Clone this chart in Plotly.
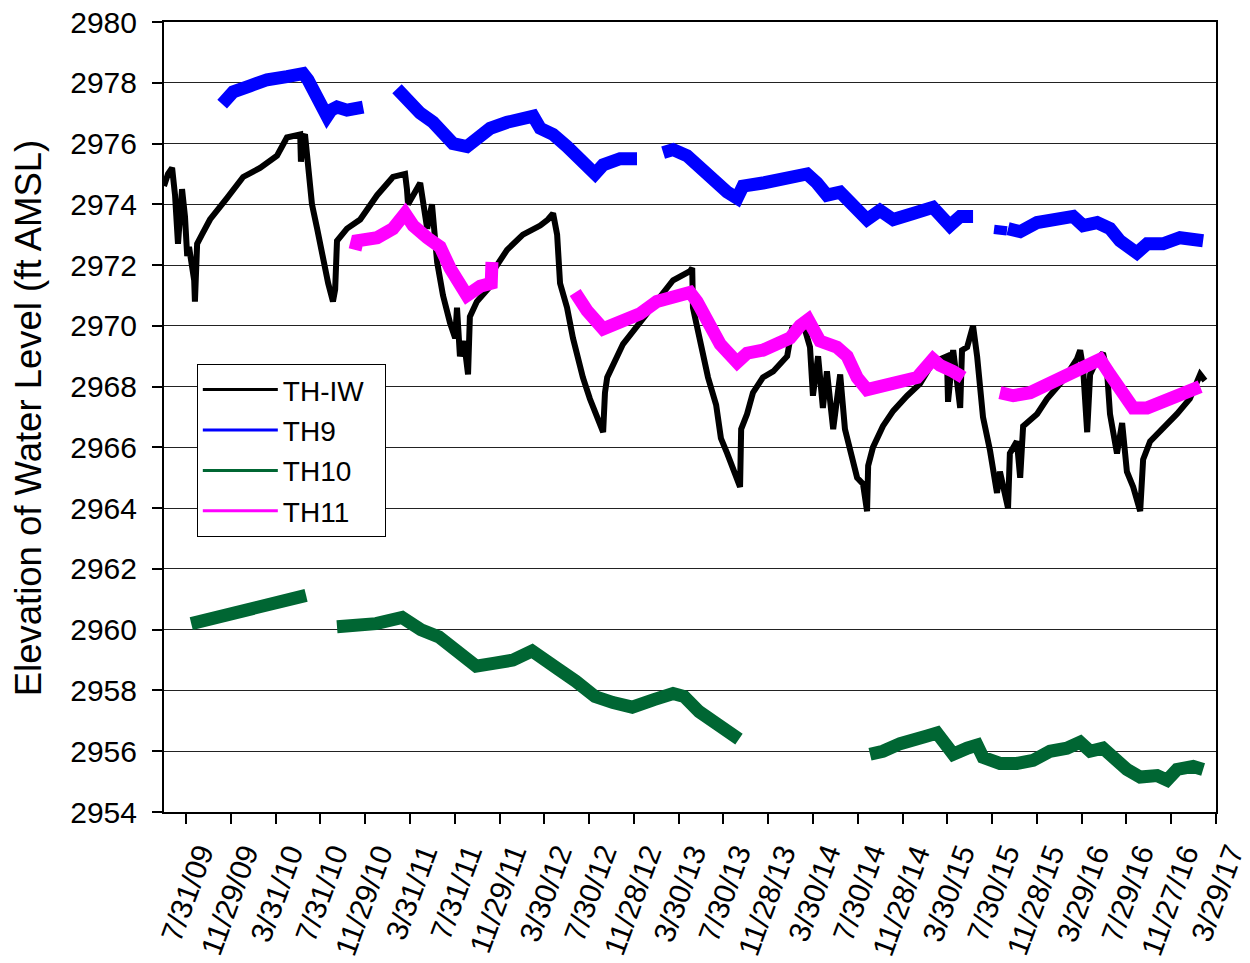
import pandas as pd
import plotly.graph_objects as go

# ---------------- data (days after 31 Jul 2009, elevation ft AMSL) ----------------
START_DATE = "2009-07-31"

th_iw_days = [-60, -49, -38, -30, -22, -16, -11, -3, 3, 8,
              16, 22, 24, 30, 43, 65, 111, 155, 201, 247,
              274, 310, 312, 318, 323, 331, 342, 356, 372, 386,
              399, 405, 410, 437, 473, 519, 562, 595, 600, 603,
              617, 636, 655, 668, 682, 698, 717, 731, 736, 744,
              755, 766, 771, 790, 826, 834, 872, 915, 962, 983,
              997, 1008, 1016, 1035, 1051, 1078, 1097, 1119, 1133, 1138,
              1144, 1187, 1233, 1279, 1323, 1369, 1375, 1377, 1404, 1418,
              1440, 1453, 1470, 1486, 1505, 1508, 1524, 1540, 1567, 1595,
              1633, 1646, 1668, 1676, 1695, 1703, 1717, 1730, 1741, 1758,
              1777, 1790, 1804, 1823, 1839, 1850, 1853, 1866, 1893, 1921,
              1959, 1994, 2029, 2067, 2070, 2084, 2103, 2108, 2122, 2138,
              2149, 2157, 2165, 2184, 2203, 2211, 2233, 2238, 2257, 2266,
              2274, 2312, 2339, 2382, 2420, 2429, 2437, 2448, 2456, 2475,
              2491, 2502, 2510, 2529, 2543, 2556, 2573, 2592, 2600, 2619,
              2654, 2692, 2727, 2755, 2768]
th_iw_vals = [2974.6, 2975.0, 2975.2, 2974.3, 2972.7, 2974.0, 2974.5, 2973.6, 2972.3, 2972.6,
              2971.9, 2971.5, 2970.8, 2972.7, 2973.0, 2973.5, 2974.2, 2974.9, 2975.2, 2975.6,
              2976.2, 2976.3, 2975.4, 2976.2, 2976.3, 2975.3, 2974.0, 2973.2, 2972.2, 2971.4,
              2970.8, 2971.2, 2972.8, 2973.2, 2973.5, 2974.3, 2974.9, 2975.0, 2974.5, 2974.0,
              2974.3, 2974.7, 2973.2, 2974.0, 2972.1, 2971.0, 2970.1, 2969.6, 2970.6, 2969.0,
              2969.5, 2968.4, 2970.3, 2970.8, 2971.3, 2971.8, 2972.5, 2973.0, 2973.3, 2973.5,
              2973.7, 2973.0, 2971.4, 2970.6, 2969.6, 2968.3, 2967.6, 2966.9, 2966.5, 2967.8,
              2968.3, 2969.4, 2970.1, 2970.8, 2971.5, 2971.8, 2971.9, 2970.6, 2969.2, 2968.3,
              2967.4, 2966.3, 2965.8, 2965.3, 2964.7, 2966.6, 2967.1, 2967.8, 2968.3, 2968.5,
              2969.0, 2969.9, 2970.0, 2970.1, 2969.3, 2967.7, 2969.0, 2967.3, 2968.5, 2966.6,
              2968.4, 2966.6, 2965.9, 2965.0, 2964.8, 2963.9, 2965.4, 2966.0, 2966.7, 2967.2,
              2967.7, 2968.1, 2968.8, 2969.0, 2967.5, 2969.2, 2967.3, 2969.2, 2969.3, 2970.0,
              2969.0, 2968.0, 2967.0, 2965.9, 2964.5, 2965.2, 2964.0, 2965.8, 2966.2, 2965.0,
              2966.7, 2967.1, 2967.6, 2968.2, 2968.9, 2969.2, 2968.6, 2966.5, 2968.4, 2968.9,
              2969.1, 2968.5, 2967.1, 2965.8, 2966.8, 2965.2, 2964.7, 2963.9, 2965.6, 2966.2,
              2966.6, 2967.1, 2967.6, 2968.4, 2968.2]

th9_days = [98, 114, 128, 174, 220, 274, 318, 331, 345, 364, 383, 394, 410, 437, 459, 481, None,
            573, 600, 636, 671, 709, 725, 763, 780, 826, 872, 915, 943, 962, 997, 1035, 1070, 1111,
            1133, 1179, 1225, None,
            1296, 1323, 1361, 1396, 1432, 1470, 1497, 1513, 1567, 1614, 1649, 1687, 1714, 1741,
            1777, 1812, 1850, 1885, 1921, 1975, 2029, 2075, 2103, 2138, None,
            2211, 2214, None,
            2233, 2266, 2312, 2366, 2410, 2437, 2475, 2510, 2537, 2583, 2611, 2654, 2700, 2763]
th9_vals = [2977.3, 2977.5, 2977.7, 2977.9, 2978.1, 2978.2, 2978.3, 2978.1, 2977.8, 2977.3, 2976.9,
            2977.1, 2977.2, 2977.1, 2977.2, 2977.2, None,
            2977.8, 2977.4, 2977.0, 2976.7, 2976.2, 2976.0, 2975.9, 2976.1, 2976.5, 2976.7, 2976.8,
            2976.9, 2976.5, 2976.3, 2975.9, 2975.5, 2975.0, 2975.3, 2975.5, 2975.5, None,
            2975.7, 2975.8, 2975.6, 2975.2, 2974.7, 2974.4, 2974.2, 2974.6, 2974.7, 2974.8, 2974.9,
            2975.0, 2974.7, 2974.3, 2974.4, 2973.9, 2973.5, 2973.8, 2973.5, 2973.7, 2973.9, 2973.3,
            2973.6, 2973.6, None,
            2973.0, 2973.3, None,
            2973.2, 2973.1, 2973.4, 2973.5, 2973.6, 2973.3, 2973.4, 2973.2, 2972.8, 2972.4, 2972.7,
            2972.7, 2972.9, 2972.8]

th10_days = [14, 84, 185, 266, 326, None,
             410, 467, 516, 587, 608, 638, 687, 739, 788, 839, 888, 940, 970, 1011, 1059, 1111,
             1160, 1212, 1271, 1323, 1353, 1394, 1442, 1502, None,
             1858, 1893, 1940, 1986, 2013, 2040, 2067, 2084, 2122, 2149, 2165, 2211, 2257, 2301,
             2347, 2393, 2429, 2456, 2491, 2518, 2556, 2592, 2638, 2665, 2692, 2736, 2763]
th10_vals = [2960.2, 2960.4, 2960.75, 2960.97, 2961.13, None,
             2960.1, 2960.1, 2960.2, 2960.4, 2960.2, 2960.0, 2959.76, 2959.2, 2958.8, 2958.9,
             2959.0, 2959.3, 2959.0, 2958.7, 2958.3, 2957.8, 2957.6, 2957.45, 2957.7, 2957.9,
             2957.8, 2957.3, 2956.9, 2956.4, None,
             2955.9, 2956.0, 2956.25, 2956.35, 2956.5, 2956.6, 2956.25, 2955.9, 2956.1, 2956.2,
             2955.8, 2955.6, 2955.6, 2955.7, 2956.0, 2956.1, 2956.3, 2956.0, 2956.1, 2955.8,
             2955.4, 2955.15, 2955.2, 2955.05, 2955.4, 2955.5, 2955.4]

th11_days = [459, 465, 519, 562, 595, 617, 655, 690, 717, 739, 763, 799, 829, 831, None,
             1057, 1089, 1133, 1187, 1233, 1279, 1323, 1369, 1388, 1415, 1451, 1497, 1524, 1567,
             1614, 1641, 1668, 1690, 1722, 1768, 1796, 1823, 1850, 1885, 1931, 1986, 2029, 2048,
             2084, 2111, None,
             2211, 2247, 2293, 2328, 2366, 2401, 2437, 2483, 2510, 2537, 2573, 2611, 2654, 2700, 2755]
th11_vals = [2972.5, 2972.8, 2972.9, 2973.2, 2973.7, 2973.3, 2972.9, 2972.6, 2971.9, 2971.4,
             2971.0, 2971.3, 2971.4, 2972.1, None,
             2971.1, 2970.5, 2969.9, 2970.2, 2970.4, 2970.8, 2971.0, 2971.1, 2970.8, 2970.1,
             2969.4, 2968.8, 2969.1, 2969.2, 2969.4, 2969.6, 2970.0, 2970.2, 2969.5, 2969.3,
             2969.0, 2968.3, 2967.9, 2968.0, 2968.2, 2968.3, 2968.9, 2968.7, 2968.5, 2968.3, None,
             2967.8, 2967.7, 2967.8, 2968.0, 2968.3, 2968.5, 2968.6, 2968.9, 2968.4, 2967.9,
             2967.3, 2967.3, 2967.5, 2967.8, 2968.0]

series_names = ["TH-IW", "TH9", "TH10", "TH11"]
series_colors = ["#000000", "#0000FF", "#006633", "#FF00FF"]

x_tick_labels = ["7/31/09", "11/29/09", "3/31/10", "7/31/10", "11/29/10", "3/31/11",
                 "7/31/11", "11/29/11", "3/30/12", "7/30/12", "11/28/12", "3/30/13",
                 "7/30/13", "11/28/13", "3/30/14", "7/30/14", "11/28/14", "3/30/15",
                 "7/30/15", "11/28/15", "3/29/16", "7/29/16", "11/27/16", "3/29/17"]
y_ticks = list(range(2954, 2981, 2))

# ---------------- helpers ----------------
start = pd.Timestamp(START_DATE)


def to_dates(days):
    return [None if d is None else start + pd.Timedelta(days=d) for d in days]


tick_step_days = 2798 / 23.0
tick_dates = [start + pd.Timedelta(days=i * tick_step_days) for i in range(len(x_tick_labels))]
x_min = start - pd.Timedelta(days=60)
x_max = tick_dates[-1]

FONT = "Liberation Sans, Arial, sans-serif"

fig = go.Figure()

data_sets = [(th_iw_days, th_iw_vals, 6), (th9_days, th9_vals, 13),
             (th10_days, th10_vals, 13), (th11_days, th11_vals, 13)]
for (d, v, w), name, col in zip(data_sets, series_names, series_colors):
    fig.add_trace(go.Scatter(x=to_dates(d), y=v, mode="lines", name=name,
                             line=dict(color=col, width=w), showlegend=False,
                             connectgaps=False, hoverinfo="skip"))

# legend entries (thin sample lines like the original); a little padding after the
# longest name widens the legend box like the original's
for i, (name, col) in enumerate(zip(series_names, series_colors)):
    label = name + ("\u00a0\u00a0" if name == "TH-IW" else "")
    fig.add_trace(go.Scatter(x=[None], y=[None], mode="lines", name=label,
                             line=dict(color=col, width=3), legendgroup=name))

# rotated date labels under each tick
for td, lab in zip(tick_dates, x_tick_labels):
    fig.add_annotation(x=td, y=0, xref="x", yref="paper", text=lab, showarrow=False,
                       textangle=-70, xanchor="right", yanchor="top",
                       xshift=36, yshift=-26,
                       font=dict(family=FONT, size=30, color="black"))

fig.add_annotation(x=-0.129, y=0.4987, xref="paper", yref="paper",
                   text="Elevation of Water Level (ft AMSL)", showarrow=False,
                   textangle=-90, xanchor="center", yanchor="middle",
                   font=dict(family=FONT, size=36.5, color="black"))

fig.update_layout(
    template="none",
    width=1250, height=963,
    margin=dict(l=164, r=34, t=22, b=151, pad=0),
    paper_bgcolor="white", plot_bgcolor="white",
    font=dict(family=FONT, color="black"),
    showlegend=True,
    legend=dict(x=0.0312, y=0.5672, xanchor="left", yanchor="top",
                bgcolor="white", bordercolor="black", borderwidth=1,
                font=dict(family=FONT, size=28, color="black"),
                tracegroupgap=1, itemwidth=75),
    xaxis=dict(type="date", range=[x_min, x_max], tickvals=tick_dates,
               showticklabels=False, ticks="outside", ticklen=10, tickwidth=2,
               tickcolor="black", showline=True, linecolor="black", linewidth=2,
               mirror=True, showgrid=False, zeroline=False, automargin=False),
    yaxis=dict(range=[2954, 2980], tickvals=y_ticks, ticktext=[str(t) for t in y_ticks],
               ticks="outside", ticklen=10, tickwidth=2, tickcolor="black",
               showline=True, linecolor="black", linewidth=2, mirror=True,
               showgrid=True, gridcolor="#222222", gridwidth=1, zeroline=False,
               ticklabelstandoff=9, automargin=False,
               tickfont=dict(family=FONT, size=30, color="black")),
)

fig.write_html("out.html", config={"displayModeBar": False},
               post_script="document.body.style.margin='0px';")
